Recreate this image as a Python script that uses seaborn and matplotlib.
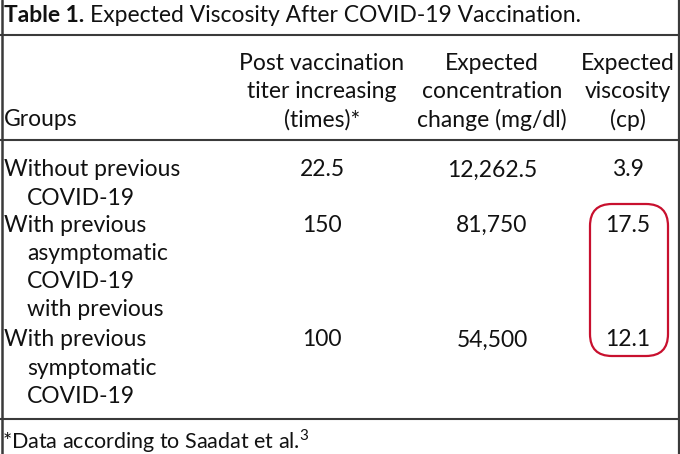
import matplotlib
matplotlib.use("Agg")
import matplotlib.pyplot as plt
import seaborn as sns
from matplotlib.patches import FancyBboxPatch

# Table content
title_bold = "Table 1."
title_rest = "Expected Viscosity After COVID-19 Vaccination."
header_groups = "Groups"
headers = [
    ["Post vaccination", "titer increasing", "(times)*"],
    ["Expected", "concentration", "change (mg/dl)"],
    ["Expected", "viscosity", "(cp)"],
]
groups = [
    ["Without previous", "COVID-19"],
    ["With previous", "asymptomatic", "COVID-19", "with previous"],
    ["With previous", "symptomatic", "COVID-19"],
]
titer = ["22.5", "150", "100"]
concentration = ["12,262.5", "81,750", "54,500"]
viscosity = ["3.9", "17.5", "12.1"]
footnote = "*Data according to Saadat et al."

sns.set_theme(style="white")
plt.rcParams["font.family"] = ["Lato", "DejaVu Sans"]
plt.rcParams["mathtext.fontset"] = "custom"
plt.rcParams["mathtext.rm"] = "Lato"

fig = plt.figure(figsize=(6.8, 4.54), dpi=100)
ax = fig.add_axes([0, 0, 1, 1])
ax.set_xlim(0, 680)
ax.set_ylim(454, 0)
ax.axis("off")

fs = 16.5
ink = "#111111"
line_c = "#3a3a3a"

# borders and rules
ax.plot([1.5, 1.5], [0, 454], color=line_c, lw=1.8)
ax.plot([678.5, 678.5], [0, 454], color=line_c, lw=1.6)
for y in (35, 140, 419):
    ax.plot([0, 680], [y, y], color=line_c, lw=1.5)

# title: bold label followed by regular text
t = ax.text(4, 16, title_bold + " ", fontsize=fs, fontweight="bold", color=ink,
            va="center", ha="left")
fig.canvas.draw()
bb = t.get_window_extent()
x_after = ax.transData.inverted().transform((bb.x1, 0))[0]
ax.text(x_after, 16, title_rest, fontsize=fs, color=ink, va="center", ha="left")

# header
col_x = [322, 492, 628]
head_y = [63, 92, 120]
ax.text(4, head_y[2], header_groups, fontsize=fs, color=ink, va="center", ha="left")
for cx, lines in zip(col_x, headers):
    for hy, txt in zip(head_y, lines):
        ax.text(cx, hy, txt, fontsize=fs, color=ink, va="center", ha="center")

# body rows
row_start = [170, 225, 340]
line_h = 28.3
for ry, lines, a, b, c in zip(row_start, groups, titer, concentration, viscosity):
    for i, txt in enumerate(lines):
        ax.text(4 if i == 0 else 27, ry + i * line_h, txt, fontsize=fs,
                color=ink, va="center", ha="left")
    for cx, val in zip(col_x, (a, b, c)):
        ax.text(cx, ry, val, fontsize=fs, color=ink, va="center", ha="center")

# footnote
ax.text(2, 441, footnote + r"$^{3}$", fontsize=15.5, color=ink, va="center", ha="left")

# red outline drawn around the viscosity values
ax.add_patch(FancyBboxPatch((590, 204), 78, 152, boxstyle="round,pad=0,rounding_size=22",
                            fill=False, edgecolor="#c8102e", lw=1.6))

fig.savefig("out.png", dpi=100)
